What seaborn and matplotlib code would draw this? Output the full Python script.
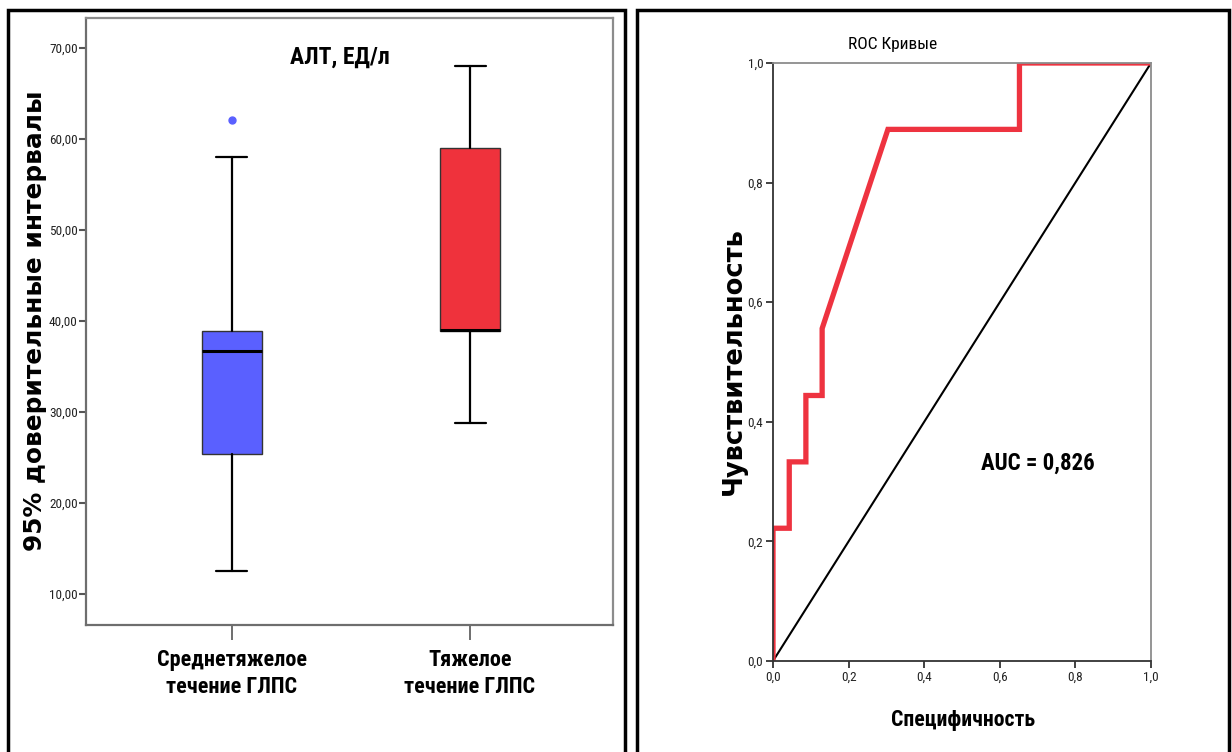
import matplotlib
matplotlib.use("Agg")
import matplotlib.pyplot as plt
import seaborn as sns
import pandas as pd
from matplotlib.patches import Rectangle

sns.set_theme(style="white")
NARROW = ['Roboto Condensed', 'PT Sans Narrow', 'DejaVu Sans']
WIDE = ['DejaVu Sans']
plt.rcParams['font.family'] = NARROW

# ---- data: box plot (АЛТ, ЕД/л) ----
groups = ["Среднетяжелое\nтечение ГЛПС", "Тяжелое\nтечение ГЛПС"]
whisker_low = [12.5, 28.8]
q1 = [25.4, 38.9]
median = [36.7, 39.0]
q3 = [38.9, 59.0]
whisker_high = [58.0, 68.0]
outliers = [[62.1], []]
box_colors = ["#5a60ff", "#ef323c"]
y_ticks = [10, 20, 30, 40, 50, 60, 70]

# ---- data: ROC curve ----
fpr = [0.0, 0.0, 0.043, 0.043, 0.087, 0.087, 0.130, 0.130, 0.304, 0.652, 0.652, 1.0]
tpr = [0.0, 0.222, 0.222, 0.333, 0.333, 0.444, 0.444, 0.556, 0.889, 0.889, 1.0, 1.0]
ref_x = [0.0, 1.0]
ref_y = [0.0, 1.0]
roc_ticks = [0.0, 0.2, 0.4, 0.6, 0.8, 1.0]
auc_label = "AUC = 0,826"

W, H = 1232, 752
fig = plt.figure(figsize=(W / 100, H / 100), dpi=100)

def fx(px):
    return px / W

def fy(py):
    return 1 - py / H

# ================= left panel =================
ax1 = fig.add_axes([fx(86), fy(625), fx(613) - fx(86), fy(18) - fy(625)])
stats = []
for i in range(len(groups)):
    stats.append(dict(whislo=whisker_low[i], q1=q1[i], med=median[i], q3=q3[i],
                      whishi=whisker_high[i], fliers=outliers[i], label=groups[i]))
bp = ax1.bxp(stats, positions=[0, 1], widths=0.25, patch_artist=True,
             showfliers=True,
             boxprops=dict(edgecolor="#333333", linewidth=1.0),
             medianprops=dict(color="black", linewidth=2.2),
             whiskerprops=dict(color="black", linewidth=1.6),
             capprops=dict(color="black", linewidth=1.6),
             capwidths=0.13,
             flierprops=dict(marker="o", markersize=5, markerfacecolor=box_colors[0],
                             markeredgecolor=box_colors[0]))
for patch, c in zip(bp["boxes"], box_colors):
    patch.set_facecolor(c)

ax1.set_xlim(-0.612, 1.6)
ax1.set_ylim(6.6, 73.3)
ax1.set_yticks(y_ticks)
ax1.set_yticklabels([f"{v},00" for v in y_ticks], fontsize=9.5, color="#222222")
ax1.set_xticks([0, 1])
ax1.set_xticklabels(groups, fontsize=16, fontweight="bold", color="black", linespacing=1.3)
for s in ax1.spines.values():
    s.set_color("#8c8c8c")
    s.set_linewidth(1.6)
ax1.spines["left"].set_color("#6e6e6e")
ax1.spines["bottom"].set_color("#6e6e6e")
ax1.tick_params(axis="y", direction="out", length=5, width=1.5, color="#555555", pad=1, left=True)
ax1.tick_params(axis="x", direction="out", length=11, width=1.2, color="#555555", pad=6, bottom=True)
ax1.set_facecolor("white")
ax1.text(fx(340), fy(57), "АЛТ, ЕД/л", transform=fig.transFigure, ha="center", va="center",
         fontsize=17, fontweight="bold", color="black")
fig.text(fx(35), fy(321), "95% доверительные интервалы", rotation=90, ha="center", va="center",
         fontsize=17.8, fontweight="bold", color="black", family=WIDE)

# ================= right panel =================
ax2 = fig.add_axes([fx(773), fy(661), fx(1151) - fx(773), fy(63) - fy(661)])
sns.lineplot(x=ref_x, y=ref_y, ax=ax2, color="black", linewidth=1.5, sort=False, estimator=None)
sns.lineplot(x=fpr, y=tpr, ax=ax2, color="#ee3340", linewidth=3.8, sort=False, estimator=None,
             solid_joinstyle="miter")
ax2.set_xlim(0, 1)
ax2.set_ylim(0, 1)
ax2.set_xticks(roc_ticks)
ax2.set_yticks(roc_ticks)
lbls = [f"{v:.1f}".replace(".", ",") for v in roc_ticks]
ax2.set_xticklabels(lbls, fontsize=9.5, color="#222222")
ax2.set_yticklabels(lbls, fontsize=9.5, color="#222222")
for side in ["left", "bottom"]:
    ax2.spines[side].set_color("#333333")
    ax2.spines[side].set_linewidth(1.3)
for side in ["top", "right"]:
    ax2.spines[side].set_color("#8c8c8c")
    ax2.spines[side].set_linewidth(1.3)
ax2.tick_params(axis="both", direction="out", length=5, width=1.3, color="#333333", pad=2,
                left=True, bottom=True)
ax2.set_xlabel("")
ax2.set_ylabel("")
ax2.set_facecolor("white")
ax2.text(0.70, 0.33, auc_label, ha="center", va="center", fontsize=16.5, fontweight="bold",
         color="black")
fig.text(fx(893), fy(45), "ROC Кривые", ha="center", va="center", fontsize=12.5, color="black")
fig.text(fx(963), fy(720), "Специфичность", ha="center", va="center", fontsize=15.7,
         fontweight="bold", color="black")
fig.text(fx(734), fy(361), "Чувствительность", rotation=90, ha="center", va="center",
         fontsize=18.5, fontweight="bold", color="black", family=WIDE)

# ================= panel frames =================
fig.add_artist(Rectangle((fx(8), fy(790)), fx(625) - fx(8), fy(10) - fy(790),
                         transform=fig.transFigure, fill=False, edgecolor="black", linewidth=2.5))
fig.add_artist(Rectangle((fx(637), fy(790)), fx(1229) - fx(637), fy(10) - fy(790),
                         transform=fig.transFigure, fill=False, edgecolor="black", linewidth=2.5))

fig.savefig("out.png", dpi=100, facecolor="white")
